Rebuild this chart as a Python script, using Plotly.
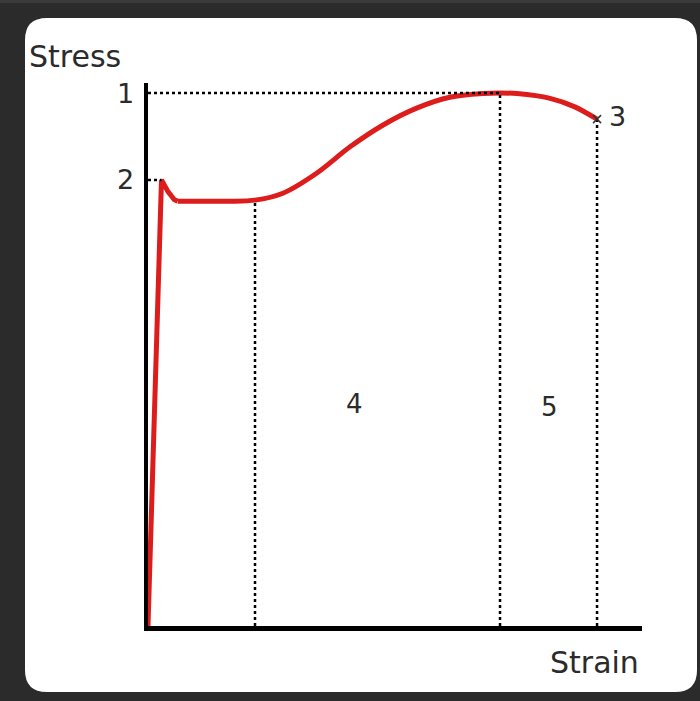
import plotly.graph_objects as go

# ---- data (normalized strain / stress) ----
strain_elastic = [0.0, 0.0273, 0.0405, 0.0530, 0.0600]
stress_elastic = [0.0, 0.837, 0.815, 0.800, 0.797]

strain_hard = [0.0600, 0.105, 0.166, 0.2166, 0.273, 0.342, 0.409,
               0.476, 0.545, 0.611, 0.678, 0.7126, 0.747, 0.814, 0.864, 0.909]
stress_hard = [0.797, 0.797, 0.797, 0.799, 0.812, 0.850, 0.899,
               0.940, 0.972, 0.992, 0.999, 1.0, 0.999, 0.990, 0.974, 0.951]

upper_yield = (0.0273, 0.837)      # point "2"
plateau_end = (0.2166, 0.799)
ultimate = (0.7126, 1.0)           # point "1"
fracture = (0.909, 0.951)          # point "3"

tick_vals = [ultimate[1], upper_yield[1]]
tick_text = ["1", "2"]
region_labels = ["4", "5"]
region_x = [0.419, 0.812]
region_y = [0.4165, 0.411]

# ---- layout geometry ----
W, H = 700, 701
ML, MR, MT, MB = 148, 58, 83, 75
PW, PH = W - ML - MR, H - MT - MB


def X(px):
    return (px - ML) / PW


def Y(py):
    return (H - MB - py) / PH


FONT = "DejaVu Sans"
TXT = "#2b2b2b"
RED = "#dc1d1b"

fig = go.Figure()

# main curve
fig.add_trace(go.Scatter(x=strain_elastic, y=stress_elastic, mode="lines",
                         line=dict(color=RED, width=5), hoverinfo="skip"))
fig.add_trace(go.Scatter(x=strain_hard, y=stress_hard, mode="lines",
                         line=dict(color=RED, width=5, shape="spline", smoothing=0.8),
                         hoverinfo="skip"))

# dotted guide lines
dot = dict(color="black", width=2.5, dash="dot")
for sx, sy in [plateau_end, ultimate, fracture]:
    fig.add_trace(go.Scatter(x=[sx, sx], y=[0, sy], mode="lines", line=dot, hoverinfo="skip"))
fig.add_trace(go.Scatter(x=[0, ultimate[0]], y=[ultimate[1], ultimate[1]], mode="lines",
                         line=dot, hoverinfo="skip"))
fig.add_trace(go.Scatter(x=[0, upper_yield[0]], y=[upper_yield[1], upper_yield[1]], mode="lines",
                         line=dot, hoverinfo="skip"))

# fracture marker
fig.add_trace(go.Scatter(x=[fracture[0]], y=[fracture[1]], mode="markers",
                         marker=dict(symbol="x-thin", size=8, line=dict(color="#333333", width=1.5)),
                         hoverinfo="skip"))

# background card
L, R, T, B, r = 25, 697, 18, 692, 22
path = (f"M {X(L + r)},{Y(T)} L {X(R - r)},{Y(T)} Q {X(R)},{Y(T)} {X(R)},{Y(T + r)} "
        f"L {X(R)},{Y(B - r)} Q {X(R)},{Y(B)} {X(R - r)},{Y(B)} "
        f"L {X(L + r)},{Y(B)} Q {X(L)},{Y(B)} {X(L)},{Y(B - r)} "
        f"L {X(L)},{Y(T + r)} Q {X(L)},{Y(T)} {X(L + r)},{Y(T)} Z")
shapes = [
    dict(type="rect", xref="paper", yref="paper", x0=X(0), x1=X(W), y0=Y(0), y1=Y(3),
         fillcolor="#3b3b3b", line=dict(width=0), layer="below"),
    dict(type="path", xref="paper", yref="paper", path=path, fillcolor="white",
         line=dict(width=0), layer="below"),
]

annotations = []
for v, t in zip(tick_vals, tick_text):
    annotations.append(dict(x=0, y=v, xref="x", yref="y", text=t, showarrow=False,
                            xanchor="right", yanchor="middle", xshift=-12,
                            font=dict(family=FONT, size=27, color=TXT)))
annotations.append(dict(x=fracture[0], y=fracture[1], xref="x", yref="y", text="3",
                        showarrow=False, xanchor="left", yanchor="middle", xshift=10, yshift=3,
                        font=dict(family=FONT, size=27, color=TXT)))
for t, x, y in zip(region_labels, region_x, region_y):
    annotations.append(dict(x=x, y=y, xref="x", yref="y", text=t, showarrow=False,
                            font=dict(family=FONT, size=26, color=TXT)))
annotations.append(dict(x=X(27), y=Y(57), xref="paper", yref="paper", text="Stress",
                        showarrow=False, xanchor="left", yanchor="middle",
                        font=dict(family=FONT, size=30, color=TXT)))
annotations.append(dict(x=X(641), y=Y(662), xref="paper", yref="paper", text="Strain",
                        showarrow=False, xanchor="right", yanchor="middle",
                        font=dict(family=FONT, size=30, color=TXT)))

fig.update_layout(
    width=W, height=H,
    margin=dict(l=ML, r=MR, t=MT, b=MB),
    paper_bgcolor="#2b2b2b",
    plot_bgcolor="rgba(0,0,0,0)",
    showlegend=False,
    hovermode=False,
    shapes=shapes,
    annotations=annotations,
    xaxis=dict(range=[0, 1], showgrid=False, zeroline=False, showticklabels=False,
               showline=True, linecolor="black", linewidth=5, ticks=""),
    yaxis=dict(range=[0, (H - MB - MT) / (H - MB - 93)], showgrid=False, zeroline=False,
               showticklabels=False, showline=True, linecolor="black", linewidth=4, ticks=""),
)

fig.write_html(
    "out.html",
    config=dict(displayModeBar=False),
    post_script="document.body.style.margin='0';document.body.style.background='#2b2b2b';"
                "document.body.style.overflow='hidden';",
)
